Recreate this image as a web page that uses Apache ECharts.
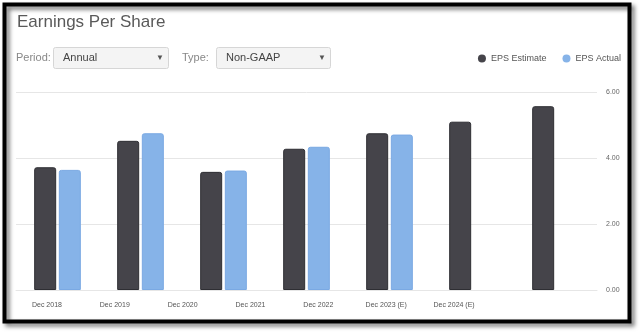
<!DOCTYPE html>
<html>
<head>
<meta charset="utf-8">
<script src="https://cdn.jsdelivr.net/npm/echarts@6/dist/echarts.min.js"></script>
<style>
html,body{margin:0;padding:0;background:#fff;}
#chart{width:640px;height:332px;}
</style>
</head>
<body>
<div id="chart"></div>
<script>
var categories = ['Dec 2018','Dec 2019','Dec 2020','Dec 2021','Dec 2022','Dec 2023 (E)','Dec 2024 (E)'];
var epsEstimate = [3.72, 4.52, 3.58, 4.28, 4.75, 5.10, 5.57];
var epsActual = [3.64, 4.75, 3.62, 4.34, 4.71, null, null];
var yTicks = [0, 2, 4, 6];

var font = 'Liberation Sans, Arial, sans-serif';
var chart = echarts.init(document.getElementById('chart'), null, {renderer:'canvas'});

function dropdown(x, w, label) {
  return [
    {type:'rect', shape:{x:x+0.5, y:47.5, width:w, height:21, r:2},
     style:{fill:'#f4f4f4', stroke:'#d6d6d6', lineWidth:1}},
    {type:'text', x:x+10, y:58, style:{text:label, fill:'#444', font:'11px '+font, textVerticalAlign:'middle'}},
    {type:'text', x:x+w-8, y:58, style:{text:'\u25BC', fill:'#555', font:'8px '+font, textAlign:'center', textVerticalAlign:'middle'}}
  ];
}

var graphics = [
  {type:'rect', shape:{x:4.5, y:4.5, width:625, height:317},
   style:{fill:'none', stroke:'#000', lineWidth:4, shadowBlur:4, shadowOffsetX:3, shadowOffsetY:3, shadowColor:'rgba(0,0,0,0.55)'}, z:100},
  {type:'text', x:17, y:22, style:{text:'Earnings Per Share', fill:'#5a5a5a', font:'17px '+font, textVerticalAlign:'middle'}},
  {type:'text', x:16, y:58, style:{text:'Period:', fill:'#888', font:'11px '+font, textVerticalAlign:'middle'}},
  {type:'text', x:182, y:58, style:{text:'Type:', fill:'#888', font:'11px '+font, textVerticalAlign:'middle'}}
].concat(dropdown(53, 115, 'Annual')).concat(dropdown(216, 114, 'Non-GAAP'));

chart.setOption({
  animation:false,
  graphic: graphics,
  legend:{
    right:14, top:49, icon:'circle', itemWidth:8, itemHeight:8, itemGap:16,
    itemStyle:{borderWidth:0},
    textStyle:{color:'#555', fontSize:9, fontFamily:font},
    data:['EPS Estimate','EPS Actual']
  },
  grid:[
    {left:16, right:43, top:92, bottom:42},
    {left:13, right:152, top:92, bottom:42}
  ],
  xAxis:[
    {type:'category', gridIndex:0, data:categories,
     axisLine:{show:true, lineStyle:{color:'#e6e6e6'}}, axisTick:{show:false}, axisLabel:{show:false}},
    {type:'category', gridIndex:1, data:categories,
     axisLine:{show:false}, axisTick:{show:false},
     axisLabel:{show:true, color:'#555', fontSize:7, fontFamily:font, margin:12, interval:0}}
  ],
  yAxis:[
    {type:'value', gridIndex:0, position:'right', min:yTicks[0], max:yTicks[yTicks.length-1], interval:2,
     axisLine:{show:false}, axisTick:{show:false},
     splitLine:{lineStyle:{color:'#e6e6e6', width:1}},
     axisLabel:{color:'#666', fontSize:7, fontFamily:font, margin:9, formatter:function(v){return v.toFixed(2);}}},
    {type:'value', gridIndex:1, min:0, max:6, show:false}
  ],
  series:[
    {name:'EPS Estimate', type:'bar', xAxisIndex:0, yAxisIndex:0, data:epsEstimate,
     barWidth:22, barGap:'12%',
     itemStyle:{color:'#45444a', borderColor:'#2e2e33', borderWidth:1, borderRadius:[2,2,0,0]}},
    {name:'EPS Actual', type:'bar', xAxisIndex:0, yAxisIndex:0, data:epsActual,
     barWidth:22, barGap:'12%',
     itemStyle:{color:'#86b3e8', borderColor:'#7aa9e3', borderWidth:1, borderRadius:[2,2,0,0]}}
  ]
});
</script>
</body>
</html>
